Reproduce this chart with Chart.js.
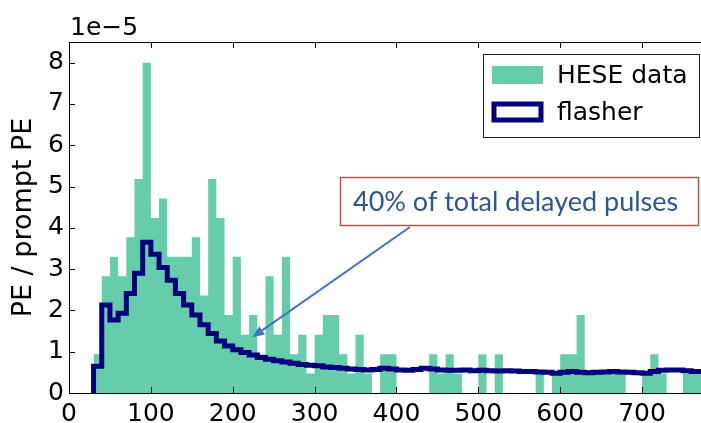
<!DOCTYPE html>
<html>
<head>
<meta charset="utf-8">
<script src="https://cdn.jsdelivr.net/npm/chart.js@4/dist/chart.umd.min.js"></script>
<style>
  html, body { margin: 0; padding: 0; background: #fff; }
  #wrap { position: relative; width: 701px; height: 423px; overflow: hidden; }
  canvas { display: block; }
</style>
</head>
<body>
<div id="wrap"><canvas id="c" width="701" height="423"></canvas></div>
<script>
// ---- data (bins of width 10, first bin starts at 30) ----
const binStart = 30;
const binWidth = 10;
// HESE data histogram (units of 1e-5)
const heseData = [
  0.94, 2.83, 3.30, 2.83, 3.77, 5.18, 8.00, 4.24, 4.71, 3.30,
  3.30, 3.30, 3.77, 2.36, 5.18, 4.24, 1.89, 3.30, 1.41, 1.89,
  0.94, 2.83, 1.41, 3.30, 0.94, 1.41, 0.47, 1.41, 1.89, 1.89,
  0.94, 0.47, 1.41, 0.47, 0.00, 0.94, 0.94, 0.00, 0.00, 0.00,
  0.00, 0.94, 0.47, 0.94, 0.47, 0.00, 0.00, 0.94, 0.00, 0.94,
  0.00, 0.00, 0.00, 0.00, 0.47, 0.00, 0.47, 0.94, 0.94, 1.89,
  0.47, 0.47, 0.47, 0.47, 0.47, 0.00, 0.00, 0.47, 0.94, 0.47,
  0.00, 0.00, 0.47, 0.47, 0.47
];
// flasher histogram (units of 1e-5)
const flasherData = [
  0.65, 2.13, 1.77, 1.93, 2.41, 2.90, 3.65, 3.36, 3.04, 2.73,
  2.41, 2.13, 1.89, 1.65, 1.44, 1.26, 1.14, 1.05, 0.98, 0.92,
  0.86, 0.82, 0.78, 0.75, 0.72, 0.69, 0.67, 0.66, 0.63, 0.62,
  0.60, 0.58, 0.57, 0.56, 0.57, 0.60, 0.58, 0.56, 0.55, 0.57,
  0.60, 0.58, 0.56, 0.55, 0.55, 0.56, 0.54, 0.55, 0.54, 0.53,
  0.54, 0.53, 0.52, 0.52, 0.51, 0.50, 0.48, 0.50, 0.52, 0.50,
  0.49, 0.50, 0.51, 0.52, 0.51, 0.50, 0.49, 0.48, 0.52, 0.55,
  0.56, 0.56, 0.54, 0.52, 0.52
];
const xTicks = [0, 100, 200, 300, 400, 500, 600, 700];
const yTicks = [0, 1, 2, 3, 4, 5, 6, 7, 8];
const seriesNames = ['HESE data', 'flasher'];
const yAxisLabel = 'PE / prompt PE';
const yExponent = '1e\u22125';
const annotationText = '40% of total delayed pulses';

// histogram outline points from bin values
function histPoints(vals, startAtZero) {
  const pts = [];
  if (startAtZero) pts.push({x: binStart, y: 0});
  vals.forEach((v, i) => pts.push({x: binStart + i * binWidth, y: v}));
  pts.push({x: binStart + vals.length * binWidth, y: vals[vals.length - 1]});
  return pts;
}

const GREEN = '#66cdaa';
const NAVY = '#00007f';
const FONT = 'DejaVu Sans';

const overlay = {
  id: 'overlay',
  afterDraw(chart) {
    const {ctx, chartArea: a, scales: {x, y}} = chart;
    ctx.save();
    // frame
    ctx.strokeStyle = '#000';
    ctx.lineWidth = 1;
    ctx.beginPath();
    ctx.moveTo(a.left + 0.5, a.bottom + 0.5);
    ctx.lineTo(a.left + 0.5, a.top + 0.5);
    ctx.lineTo(a.right + 0.5, a.top + 0.5);
    ctx.moveTo(a.left + 0.5, a.bottom + 0.5);
    ctx.lineTo(a.right + 0.5, a.bottom + 0.5);
    ctx.stroke();
    // inward ticks
    ctx.beginPath();
    xTicks.forEach(t => {
      const px = Math.round(x.getPixelForValue(t)) + 0.5;
      ctx.moveTo(px, a.bottom); ctx.lineTo(px, a.bottom - 6);
      ctx.moveTo(px, a.top); ctx.lineTo(px, a.top + 6);
    });
    yTicks.forEach(t => {
      const py = Math.round(y.getPixelForValue(t)) + 0.5;
      ctx.moveTo(a.left, py); ctx.lineTo(a.left + 6, py);
    });
    ctx.stroke();
    // exponent label
    ctx.fillStyle = '#000';
    ctx.font = '25px "' + FONT + '"';
    ctx.textAlign = 'left';
    ctx.textBaseline = 'alphabetic';
    ctx.fillText(yExponent, a.left + 1, a.top - 7);

    // legend
    const lx = 483, ly = 54, lw = 216, lh = 83;
    ctx.fillStyle = '#fff';
    ctx.fillRect(lx, ly, lw, lh);
    ctx.strokeStyle = '#222';
    ctx.lineWidth = 1;
    ctx.strokeRect(lx + 0.5, ly + 0.5, lw, lh);
    ctx.fillStyle = GREEN;
    ctx.fillRect(492, 66, 51, 18);
    ctx.fillStyle = '#fff';
    ctx.fillRect(494, 104, 47, 16);
    ctx.strokeStyle = NAVY;
    ctx.lineWidth = 5;
    ctx.strokeRect(494, 104, 47, 16);
    ctx.fillStyle = '#000';
    ctx.font = '25px "' + FONT + '"';
    ctx.textBaseline = 'middle';
    ctx.fillText(seriesNames[0], 557, 76);
    ctx.fillText(seriesNames[1], 557, 113);

    // annotation arrow
    const tipX = x.getPixelForValue(224), tipY = y.getPixelForValue(1.35);
    const sx = 410, sy = 227;
    ctx.strokeStyle = '#4472c4';
    ctx.fillStyle = '#4472c4';
    ctx.lineWidth = 2;
    const ang = Math.atan2(tipY - sy, tipX - sx);
    const hl = 12, hw = 5;
    const bx = tipX - hl * Math.cos(ang), by = tipY - hl * Math.sin(ang);
    ctx.beginPath();
    ctx.moveTo(sx, sy); ctx.lineTo(bx, by);
    ctx.stroke();
    ctx.beginPath();
    ctx.moveTo(tipX, tipY);
    ctx.lineTo(bx + hw * Math.sin(ang), by - hw * Math.cos(ang));
    ctx.lineTo(bx - hw * Math.sin(ang), by + hw * Math.cos(ang));
    ctx.closePath();
    ctx.fill();
    // annotation box
    ctx.fillStyle = '#fff';
    ctx.fillRect(340, 177, 358, 48);
    ctx.strokeStyle = '#c0504d';
    ctx.lineWidth = 1.5;
    ctx.strokeRect(340.5, 177.5, 358, 48);
    ctx.fillStyle = '#2f5597';
    ctx.font = '27px Lato';
    ctx.textBaseline = 'middle';
    ctx.textAlign = 'left';
    ctx.fillText(annotationText, 353, 202);
    ctx.restore();
  }
};

new Chart(document.getElementById('c'), {
  type: 'line',
  data: {
    datasets: [
      {
        label: seriesNames[0],
        data: histPoints(heseData, false),
        stepped: 'before',
        fill: 'origin',
        backgroundColor: GREEN,
        borderWidth: 0,
        pointRadius: 0,
        order: 2
      },
      {
        label: seriesNames[1],
        data: histPoints(flasherData, true),
        stepped: 'before',
        fill: false,
        borderColor: NAVY,
        borderWidth: 5,
        borderJoinStyle: 'miter',
        pointRadius: 0,
        order: 1
      }
    ]
  },
  options: {
    responsive: false,
    animation: false,
    events: [],
    layout: { padding: { top: 42, right: 0, left: 0, bottom: 0 } },
    plugins: { legend: { display: false }, tooltip: { enabled: false } },
    scales: {
      x: {
        type: 'linear', min: 0, max: 772,
        grid: { display: false, drawTicks: false },
        border: { display: false },
        afterBuildTicks(s) { s.ticks = xTicks.map(v => ({value: v})); },
        ticks: { color: '#000', font: { family: FONT, size: 25 }, padding: 6, maxRotation: 0, autoSkip: false },
        afterFit(s) { s.height = 30; }
      },
      y: {
        min: 0, max: 8.5,
        grid: { display: false, drawTicks: false },
        border: { display: false },
        afterBuildTicks(s) { s.ticks = yTicks.map(v => ({value: v})); },
        ticks: { color: '#000', font: { family: FONT, size: 25 }, padding: 5 },
        title: { display: true, text: yAxisLabel, color: '#000', font: { family: FONT, size: 27 }, padding: { top: 8, bottom: 0 } },
        afterFit(s) { s.width = 69; }
      }
    }
  },
  plugins: [overlay]
});
</script>
</body>
</html>
